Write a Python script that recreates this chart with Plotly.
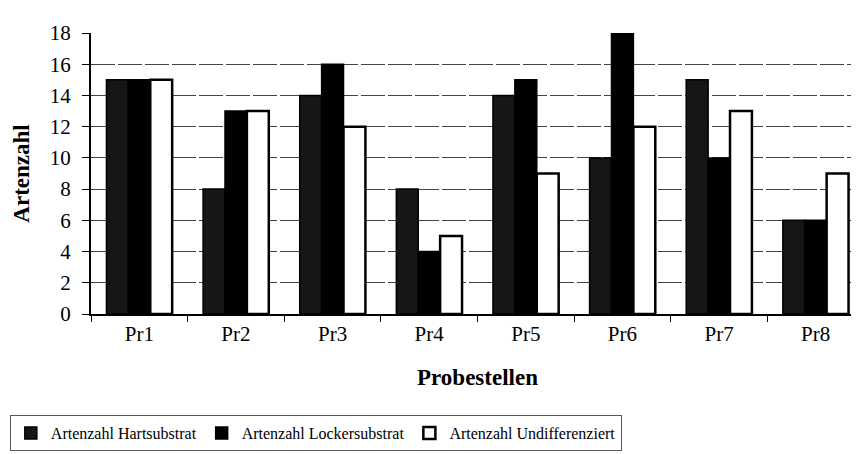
import plotly.graph_objects as go

categories = ["Pr1", "Pr2", "Pr3", "Pr4", "Pr5", "Pr6", "Pr7", "Pr8"]
hart = [15, 8, 14, 8, 14, 10, 15, 6]
locker = [15, 13, 16, 4, 15, 18, 10, 6]
undiff = [15, 13, 12, 5, 9, 12, 13, 9]
y_ticks = list(range(0, 19, 2))

font_family = "Liberation Serif, Times New Roman, serif"

fig = go.Figure()
fig.add_trace(go.Bar(x=categories, y=hart, name="Artenzahl Hartsubstrat",
                     marker=dict(color="#161616", line=dict(color="black", width=1.5))))
fig.add_trace(go.Bar(x=categories, y=locker, name="Artenzahl Lockersubstrat",
                     marker=dict(color="black", line=dict(color="black", width=1.5))))
fig.add_trace(go.Bar(x=categories, y=undiff, name="Artenzahl Undifferenziert",
                     marker=dict(color="white", line=dict(color="black", width=2.5))))

fig.update_layout(
    width=859, height=454,
    margin=dict(l=83, r=1, t=25, b=148),
    paper_bgcolor="white", plot_bgcolor="white",
    barmode="group", bargap=0.32, bargroupgap=0,
    font=dict(family=font_family, size=20, color="black"),
    showlegend=True,
    legend=dict(orientation="h", x=-0.105, y=-0.36, xanchor="left", yanchor="top",
                font=dict(family=font_family, size=16, color="black"),
                bordercolor="#555", borderwidth=1, bgcolor="white",
                itemwidth=30, traceorder="normal", tracegroupgap=0),
)
fig.update_xaxes(
    showline=True, linecolor="black", linewidth=2, mirror=False,
    ticks="outside", tickson="boundaries", ticklen=6, tickcolor="black", tickwidth=1,
    tickfont=dict(family=font_family, size=21),
    title=dict(text="<b>Probestellen</b>", font=dict(family=font_family, size=23), standoff=24),
    showgrid=False,
)
fig.update_yaxes(
    range=[0, 18], tickvals=y_ticks,
    showline=True, linecolor="black", linewidth=2, mirror=True,
    ticks="outside", ticklen=7, tickcolor="black",
    ticklabelstandoff=7,
    tickfont=dict(family=font_family, size=21),
    showgrid=True, gridcolor="#444", gridwidth=1, griddash="24px,3px",
    zeroline=False,
    title=dict(text="<b>Artenzahl</b>", font=dict(family=font_family, size=23), standoff=14),
)

fig.write_html("out.html")
